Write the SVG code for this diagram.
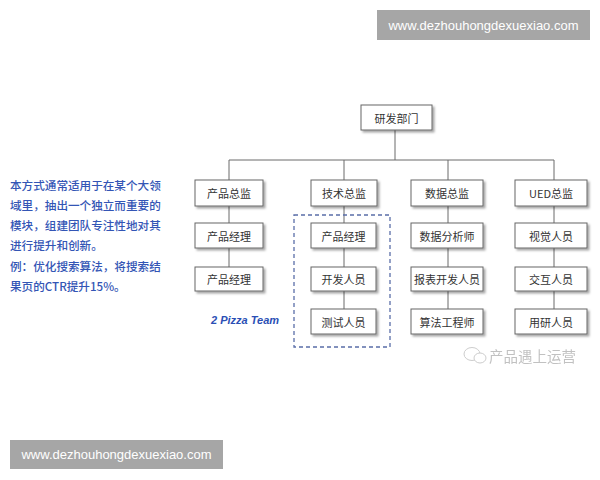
<svg xmlns="http://www.w3.org/2000/svg" width="600" height="480" viewBox="0 0 600 480">
<defs>
<filter id="sh" x="-20%" y="-30%" width="150%" height="180%">
<feDropShadow dx="2" dy="2" stdDeviation="1.2" flood-color="#000" flood-opacity="0.35"/>
</filter>
<style>
.n rect{fill:#fff;stroke:#666;stroke-width:1;filter:url(#sh)}
.n text{font-family:"Noto Sans CJK SC","Liberation Sans",sans-serif;font-size:11px;fill:#333;text-anchor:middle;dominant-baseline:central}
.c line{stroke:#6b6b6b;stroke-width:1}
.desc{font-family:"Noto Sans CJK SC",sans-serif;font-size:11.6px;font-weight:500;fill:#3355b5}
.ban rect{fill:#a6a6a6}
.ban text{font-family:"Liberation Sans","DejaVu Sans",sans-serif;font-size:13px;fill:#fff;text-anchor:middle;dominant-baseline:central}
</style>
</defs>
<rect width="600" height="480" fill="#fff"/>
<g class="ban" id="banner-top"><rect x="377" y="10" width="213" height="30"/><text x="483.5" y="25">www.dezhouhongdexuexiao.com</text></g>
<g class="ban" id="banner-bottom"><rect x="10" y="440" width="213" height="29"/><text x="116.5" y="454.5">www.dezhouhongdexuexiao.com</text></g>
<g class="desc" id="description">
<text x="10" y="190">本方式通常适用于在某个大领</text>
<text x="10" y="210">域里，抽出一个独立而重要的</text>
<text x="10" y="230">模块，组建团队专注性地对其</text>
<text x="10" y="250">进行提升和创新。</text>
<text x="10" y="271">例：优化搜索算法，将搜索结</text>
<text x="10" y="291">果页的CTR提升15%。</text>
</g>
<g class="c" id="connectors">
<line x1="395" y1="130" x2="395" y2="160"/>
<line x1="229" y1="160" x2="554" y2="160"/>
<line x1="229" y1="160" x2="229" y2="180"/>
<line x1="344" y1="160" x2="344" y2="180"/>
<line x1="448" y1="160" x2="448" y2="180"/>
<line x1="554" y1="160" x2="554" y2="180"/>
<line x1="229" y1="206" x2="229" y2="223"/>
<line x1="229" y1="248" x2="229" y2="267"/>
<line x1="344" y1="206" x2="344" y2="223"/>
<line x1="344" y1="248" x2="344" y2="267"/>
<line x1="344" y1="291" x2="344" y2="309"/>
<line x1="448" y1="206" x2="448" y2="223"/>
<line x1="448" y1="248" x2="448" y2="267"/>
<line x1="448" y1="291" x2="448" y2="309"/>
<line x1="554" y1="206" x2="554" y2="223"/>
<line x1="554" y1="248" x2="554" y2="267"/>
<line x1="554" y1="291" x2="554" y2="309"/>
</g>
<rect id="pizza-team-box" x="294" y="215" width="96" height="132" fill="none" stroke="#5a6ea8" stroke-width="1.3" stroke-dasharray="4,3"/>
<text id="pizza-team-label" x="211" y="324" font-family="Liberation Sans,sans-serif" font-size="11" font-weight="bold" font-style="italic" fill="#2b4fb5">2 Pizza Team</text>
<g class="n" id="rd"><rect x="361" y="105" width="71" height="25"/><text x="396.5" y="117.5">研发部门</text></g>
<g class="n" id="pd"><rect x="195" y="180" width="68" height="26"/><text x="229" y="193">产品总监</text></g>
<g class="n" id="td"><rect x="311" y="180" width="66" height="26"/><text x="344" y="193">技术总监</text></g>
<g class="n" id="dd"><rect x="411" y="180" width="72" height="26"/><text x="447" y="193">数据总监</text></g>
<g class="n" id="ud"><rect x="515" y="180" width="72" height="26"/><text x="551" y="193">UED总监</text></g>
<g class="n" id="pm1"><rect x="195" y="223" width="68" height="25"/><text x="229" y="235.5">产品经理</text></g>
<g class="n" id="pm2"><rect x="195" y="267" width="68" height="24"/><text x="229" y="279">产品经理</text></g>
<g class="n" id="tpm"><rect x="311" y="223" width="65" height="25"/><text x="343.5" y="235.5">产品经理</text></g>
<g class="n" id="dev"><rect x="311" y="267" width="65" height="24"/><text x="343.5" y="279">开发人员</text></g>
<g class="n" id="qa"><rect x="311" y="309" width="65" height="25"/><text x="343.5" y="321.5">测试人员</text></g>
<g class="n" id="da"><rect x="411" y="223" width="72" height="25"/><text x="447" y="235.5">数据分析师</text></g>
<g class="n" id="rp"><rect x="411" y="267" width="72" height="24"/><text x="447" y="279">报表开发人员</text></g>
<g class="n" id="alg"><rect x="411" y="309" width="72" height="25"/><text x="447" y="321.5">算法工程师</text></g>
<g class="n" id="vis"><rect x="515" y="223" width="72" height="25"/><text x="551" y="235.5">视觉人员</text></g>
<g class="n" id="ix"><rect x="515" y="267" width="72" height="24"/><text x="551" y="279">交互人员</text></g>
<g class="n" id="ur"><rect x="515" y="309" width="72" height="25"/><text x="551" y="321.5">用研人员</text></g>
<g id="watermark" opacity="0.6">
<ellipse cx="472" cy="354" rx="8" ry="6.5" fill="none" stroke="#aaa" stroke-width="1"/>
<ellipse cx="480" cy="358" rx="6" ry="5" fill="#fff" stroke="#aaa" stroke-width="1"/>
<text x="489" y="362" font-family="Noto Sans CJK SC,sans-serif" font-size="14.5" fill="#999">产品遇上运营</text>
</g>
</svg>
